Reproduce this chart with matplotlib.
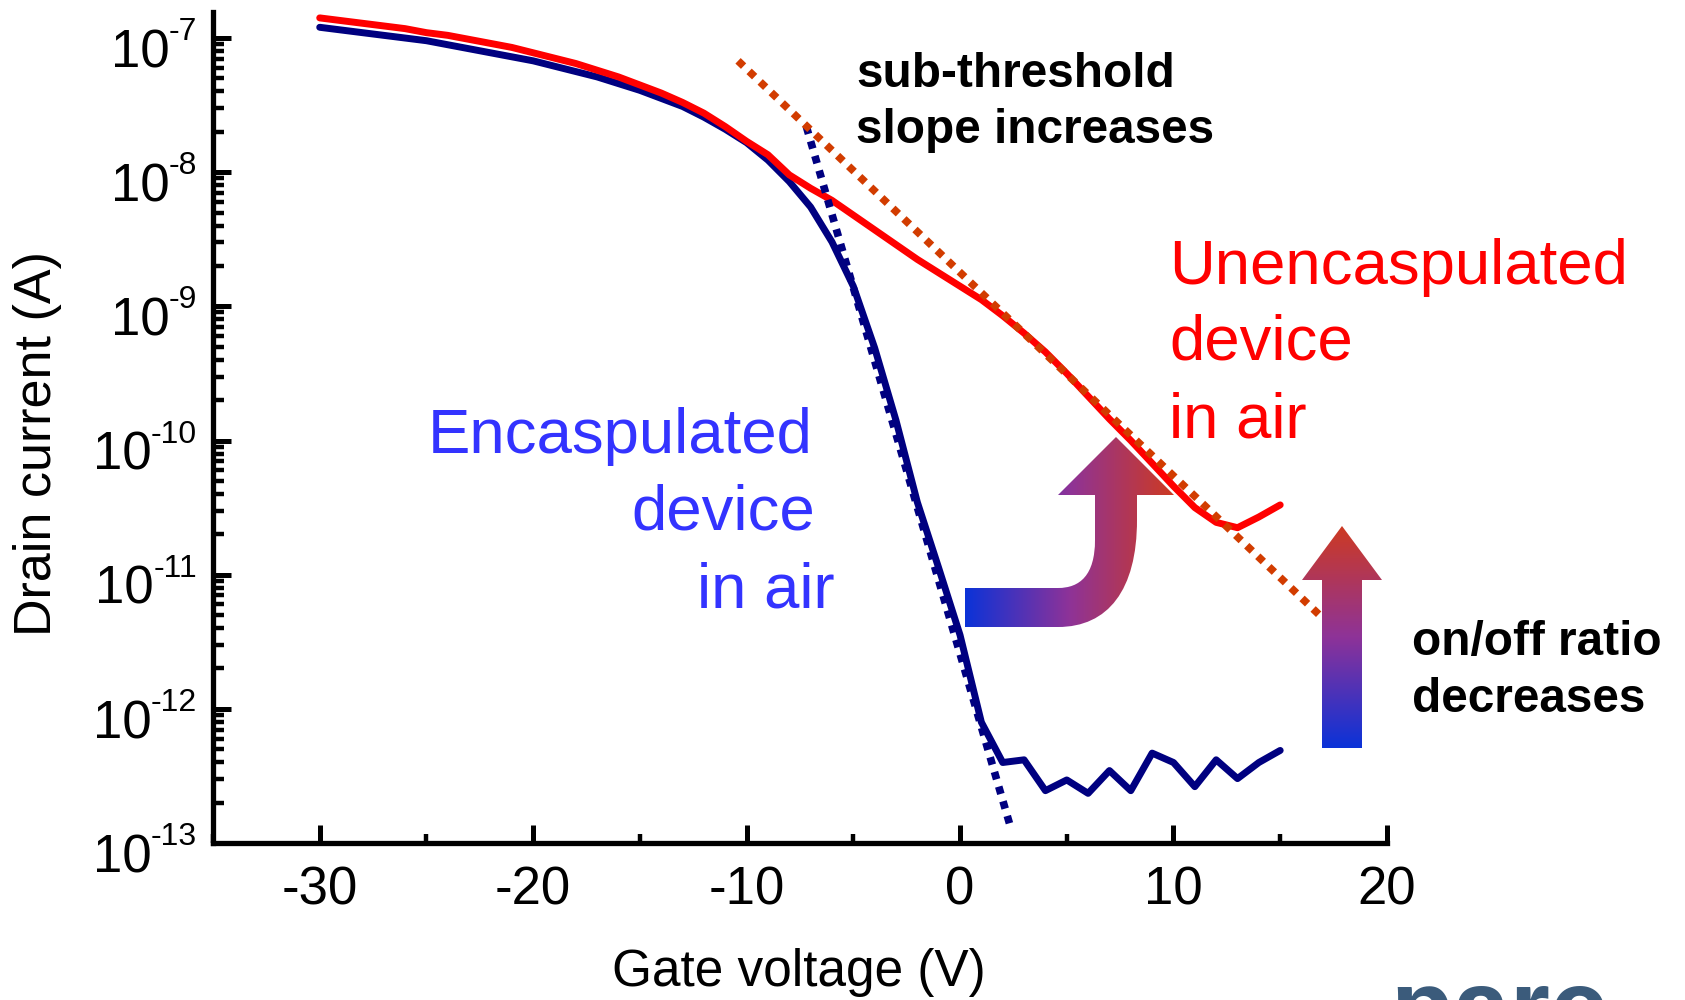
import numpy as np
import matplotlib
matplotlib.use('Agg')
from matplotlib import pyplot as plt
from matplotlib.colors import LinearSegmentedColormap
from matplotlib.path import Path
from matplotlib.patches import PathPatch
from matplotlib.ticker import LogLocator, MultipleLocator, NullFormatter

plt.rcParams['font.family'] = ['Liberation Sans', 'DejaVu Sans']
plt.rcParams['axes.unicode_minus'] = False

# gate sweep (V)
gate_v = np.arange(-30, 16)

# log10 of drain current (A)
log_id_unencap = [-6.85, -6.87, -6.89, -6.91, -6.93, -6.96, -6.98, -7.01, -7.04, -7.07,
                  -7.11, -7.15, -7.19, -7.24, -7.29, -7.35, -7.41, -7.48, -7.56, -7.66,
                  -7.77, -7.87, -8.02, -8.12, -8.21, -8.32, -8.43, -8.54, -8.65, -8.75,
                  -8.85, -8.95, -9.07, -9.20, -9.34, -9.50, -9.67, -9.84, -10.00, -10.17,
                  -10.34, -10.50, -10.61, -10.65, -10.57, -10.48]
log_id_encap = [-6.92, -6.94, -6.96, -6.98, -7.00, -7.02, -7.05, -7.08, -7.11, -7.14,
                -7.17, -7.21, -7.25, -7.29, -7.34, -7.39, -7.45, -7.51, -7.59, -7.68,
                -7.78, -7.91, -8.07, -8.26, -8.52, -8.85, -9.31, -9.85, -10.46, -10.95,
                -11.45, -12.10, -12.40, -12.38, -12.61, -12.53, -12.63, -12.46, -12.61, -12.33,
                -12.40, -12.58, -12.38, -12.52, -12.40, -12.31]

# sub-threshold slope fits (end points)
fit_encap_v = [-7.2, 2.4]
fit_encap_log = [-7.66, -12.9]
fit_unencap_v = [-10.4, 16.9]
fit_unencap_log = [-7.17, -11.31]

x_ticks = [-30, -20, -10, 0, 10, 20]
y_exponents = [-13, -12, -11, -10, -9, -8, -7]

fig = plt.figure(figsize=(16.85, 10), dpi=100)
ax = fig.add_axes([0.1264, 0.157, 0.6967, 0.831])

ax.plot(gate_v, 10.0 ** np.array(log_id_encap), color='#000080', lw=5,
        solid_joinstyle='round', solid_capstyle='round', zorder=3)
ax.plot(gate_v, 10.0 ** np.array(log_id_unencap), color='#ff0000', lw=5,
        solid_joinstyle='round', solid_capstyle='round', zorder=3)
ax.plot(fit_encap_v, 10.0 ** np.array(fit_encap_log), color='#000080', lw=5.5,
        linestyle=(0, (1, 1)), dash_capstyle='butt', zorder=4)
ax.plot(fit_unencap_v, 10.0 ** np.array(fit_unencap_log), color='#d23c00', lw=5.5,
        linestyle=(0, (1, 1)), dash_capstyle='butt', zorder=4)

ax.set_yscale('log')
ax.set_xlim(-35, 20)
ax.set_ylim(1e-13, 10 ** -6.806)

ax.set_xticks(x_ticks, labels=[str(v) for v in x_ticks])
ax.xaxis.set_minor_locator(MultipleLocator(5))
ax.set_yticks([10.0 ** e for e in y_exponents])
ax.yaxis.set_major_formatter(NullFormatter())
ax.yaxis.set_minor_locator(LogLocator(base=10, subs=np.arange(2, 10), numticks=100))
ax.yaxis.set_minor_formatter(NullFormatter())

# decade labels: raised exponent, with the "10" hung off its left side
for e in y_exponents:
    sup = ax.annotate(str(e), xy=(0, 10.0 ** e), xycoords=('axes fraction', 'data'),
                      xytext=(-11.5, -1.5), textcoords='offset points',
                      ha='right', va='baseline', fontsize=23, annotation_clip=False)
    ax.annotate('10', xy=(0, 0), xycoords=sup, xytext=(0.5, -14.5),
                textcoords='offset points', ha='right', va='baseline',
                fontsize=38, annotation_clip=False)

ax.tick_params(which='both', direction='in', top=False, right=False, labelsize=38, width=3.6)
ax.tick_params(axis='x', which='major', length=13, pad=16)
ax.tick_params(axis='x', which='minor', length=6.5, width=3.2)
ax.tick_params(axis='y', which='major', length=13)
ax.tick_params(axis='y', which='minor', length=8, width=3.2)

for side in ['top', 'right']:
    ax.spines[side].set_visible(False)
for side in ['left', 'bottom']:
    ax.spines[side].set_linewidth(3.8)

fig.text(38 / 1685, 1 - 443 / 1000, 'Drain current (A)', rotation=90,
         ha='center', va='center', fontsize=37.5)
fig.text(799 / 1685, 1 - 986 / 1000, 'Gate voltage (V)', ha='center',
         va='baseline', fontsize=37)

# overlay in pixel units for arrows and notes
ov = fig.add_axes([0, 0, 1, 1], zorder=5)
ov.patch.set_alpha(0)
ov.axis('off')

arrow_cmap = LinearSegmentedColormap.from_list('blue_red', ['#0b32d8', '#8e3398', '#cd3a22'])


def gradient_arrow(verts, codes, extent, vertical):
    patch = PathPatch(Path(verts, codes), facecolor='none', edgecolor='none')
    ov.add_patch(patch)
    ramp = np.linspace(0, 1, 256)
    img = ramp[::-1][:, None] if vertical else ramp[None, :]
    im = ov.imshow(img, cmap=arrow_cmap, extent=extent, aspect='auto',
                   interpolation='bilinear')
    im.set_clip_path(patch)


M, L, C, Z = Path.MOVETO, Path.LINETO, Path.CURVE4, Path.CLOSEPOLY

bend_verts = [(965, 588), (1058, 588), (1080, 588), (1095, 575), (1095, 540),
              (1095, 495), (1058, 495), (1116, 437), (1174, 495), (1137, 495),
              (1137, 520), (1137, 590), (1108, 627), (1058, 627), (965, 627), (965, 588)]
bend_codes = [M, L, C, C, C, L, L, L, L, L, L, C, C, C, L, Z]
gradient_arrow(bend_verts, bend_codes, (965, 1174, 627, 437), vertical=False)

up_verts = [(1322, 748), (1362, 748), (1362, 580), (1382, 580), (1342, 526),
            (1302, 580), (1322, 580), (1322, 748)]
up_codes = [M, L, L, L, L, L, L, Z]
gradient_arrow(up_verts, up_codes, (1302, 1382, 748, 526), vertical=True)

ov.set_xlim(0, 1685)
ov.set_ylim(1000, 0)

bold = dict(fontsize=34.4, fontweight='bold', color='black', va='baseline')
ov.text(856, 87, 'sub-threshold', ha='left', **bold)
ov.text(856, 143, 'slope increases', ha='left', **bold)
ov.text(1412, 655, 'on/off ratio', ha='left', **bold)
ov.text(1412, 712, 'decreases', ha='left', **bold)

red_note = dict(fontsize=45.7, color='#ff0000', va='baseline', ha='left')
ov.text(1169, 284, 'Unencaspulated', **red_note)
ov.text(1169, 360, 'device', **red_note)
ov.text(1169, 437, 'in air', **red_note)

blue_note = dict(fontsize=45.7, color='#3333ff', va='baseline', ha='right')
ov.text(813, 453, 'Encaspulated', **blue_note)
ov.text(815, 530, 'device', **blue_note)
ov.text(835, 607, 'in air', **blue_note)

# logo, running off the bottom edge
ov.text(1390, 1042, 'parc', fontsize=74, fontweight='bold', color='#3b5b7b',
        ha='left', va='baseline', clip_on=False)

fig.savefig('out.png', dpi=100)
